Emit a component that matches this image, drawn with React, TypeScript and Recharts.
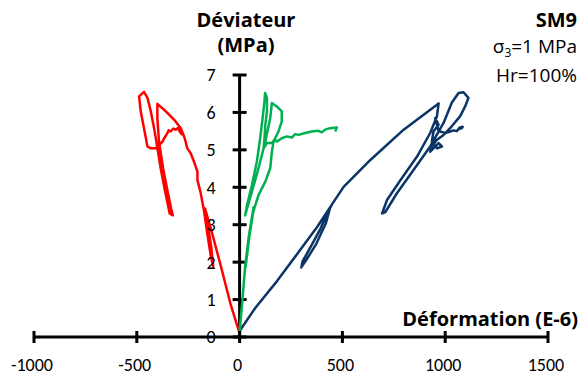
import React from "react";
import { ComposedChart, Scatter, XAxis, YAxis, ReferenceLine } from "recharts";

// déformation (E-6) / déviateur (MPa)
const lateralCurve: [number, number][] = [
  [0, 0.1], [-44, 0.88], [-92, 1.91], [-133, 2.76], [-168, 3.43],
  [-155, 3.03], [-138, 2.4], [-128, 1.88], [-139, 2.13], [-157, 2.76], [-172, 3.34],
  [-189, 3.84], [-205, 4.19], [-205, 4.42], [-222, 4.69], [-238, 4.91], [-254, 5.04],
  [-267, 5.31], [-286, 5.58], [-319, 5.81], [-359, 6.03], [-400, 6.23],
  [-400, 5.85], [-392, 5.22], [-372, 4.51], [-350, 3.88], [-333, 3.43], [-325, 3.25],
  [-340, 3.3], [-362, 3.88], [-384, 4.51], [-402, 5.13], [-416, 5.58], [-432, 6.03],
  [-448, 6.39], [-465, 6.55], [-489, 6.43], [-481, 6.03], [-465, 5.58], [-448, 5.09],
  [-432, 5.04], [-408, 5.04], [-392, 5.13], [-375, 5.22], [-367, 5.31], [-354, 5.42],
  [-345, 5.52], [-335, 5.49], [-322, 5.57], [-311, 5.54], [-300, 5.58], [-290, 5.48], [-278, 5.4],
];

const volumetricCurve: [number, number][] = [
  [0, 0.15], [14, 1.0], [27, 1.9], [45, 2.7], [68, 3.47], [50, 2.8], [29, 1.86],
  [45, 2.6], [65, 3.3], [75, 3.5], [92, 3.79], [125, 4.15], [149, 4.51], [157, 4.95],
  [165, 5.22], [189, 5.49], [205, 5.76], [205, 6.03], [181, 6.16], [157, 6.25],
  [149, 5.85], [125, 5.22], [92, 4.51], [60, 3.88], [36, 3.43], [27, 3.25],
  [36, 3.52], [60, 4.06], [84, 4.69], [100, 5.31], [112, 5.85], [121, 6.3], [124, 6.52],
  [133, 6.39], [133, 6.03], [125, 5.67], [121, 5.31], [117, 5.04], [133, 5.18],
  [157, 5.18], [170, 5.28], [181, 5.22], [205, 5.31], [230, 5.36], [254, 5.33],
  [270, 5.42], [286, 5.4], [319, 5.45], [351, 5.49], [384, 5.51], [400, 5.47],
  [416, 5.54], [440, 5.58], [473, 5.6], [465, 5.49],
];

const axialCurve: [number, number][] = [
  [0, 0.15], [5, 0.2], [78, 0.79], [183, 1.5], [280, 2.22], [377, 2.94], [442, 3.48],
  [419, 3.03], [373, 2.49], [328, 2.09], [300, 1.86], [306, 2.02], [345, 2.4],
  [393, 2.89], [432, 3.37], [450, 3.55], [506, 4.01], [636, 4.73], [798, 5.54],
  [895, 5.94], [968, 6.24], [960, 5.9], [927, 5.45], [863, 4.82], [782, 4.19],
  [717, 3.66], [693, 3.3], [709, 3.34], [765, 3.84], [846, 4.46], [927, 5.09],
  [992, 5.72], [1032, 6.26], [1065, 6.52], [1089, 6.54], [1113, 6.39], [1097, 6.16],
  [1073, 5.9], [1032, 5.63], [992, 5.4], [960, 5.27], [935, 5.09], [927, 4.95],
  [943, 5.04], [968, 5.18], [984, 5.09], [960, 5.04], [935, 5.22], [943, 5.49],
  [968, 5.67], [951, 5.85], [968, 5.5], [1000, 5.45], [1024, 5.49], [1040, 5.52],
  [1057, 5.5], [1070, 5.6], [1081, 5.58], [1065, 5.55], [1081, 5.62], [1090, 5.6],
];

const xTicks = [-1000, -500, 0, 500, 1000, 1500];
const yTicks = [0, 1, 2, 3, 4, 5, 6, 7];

const TICK_FONT = "Carlito, Lato, sans-serif";
const TITLE_FONT = "'Open Sans', sans-serif";

const toPoints = (c: [number, number][]) => c.map(([x, y]) => ({ x, y }));

const XTick = (props: any) => {
  const { x, y, payload } = props;
  return (
    <g>
      <line x1={x} x2={x} y1={y - 6} y2={y + 6} stroke="#000" strokeWidth={3} />
      <text x={x - 2} y={y + 34} textAnchor="middle" fontSize={18} fill="#000" fontFamily={TICK_FONT}>
        {payload.value}
      </text>
    </g>
  );
};

const noShape = () => <g />;

export default function App() {
  const series = [
    { name: "lateral", data: toPoints(lateralCurve), color: "#FF0000" },
    { name: "axial", data: toPoints(axialCurve), color: "#0B3567" },
    { name: "volumetric", data: toPoints(volumetricCurve), color: "#00B050" },
  ];

  return (
    <div style={{ position: "absolute", left: 0, top: 0, width: 581, height: 385, background: "#fff" }}>
      <ComposedChart width={581} height={385} margin={{ top: 75, right: 33, bottom: 0, left: 34 }}>
        <XAxis
          type="number"
          dataKey="x"
          domain={[-1000, 1500]}
          ticks={xTicks}
          interval={0}
          allowDataOverflow
          height={48}
          tickSize={0}
          tickMargin={0}
          tick={<XTick />}
          axisLine={{ stroke: "#000", strokeWidth: 3 }}
        />
        <YAxis type="number" dataKey="y" domain={[0, 7]} ticks={yTicks} hide allowDataOverflow />
        <ReferenceLine x={0} stroke="#000" strokeWidth={3} />
        {yTicks.map((v) => (
          <ReferenceLine
            key={v}
            segment={[{ x: -34, y: v }, { x: 34, y: v }]}
            stroke="#000"
            strokeWidth={3}
            ifOverflow="visible"
            label={{ value: String(v), position: "left", offset: 17, fill: "#000", fontSize: 18, fontFamily: TICK_FONT }}
          />
        ))}
        {series.map((s) => (
          <Scatter
            key={s.name}
            data={s.data}
            fill={s.color}
            line={{ stroke: s.color, strokeWidth: 2.5, strokeLinejoin: "round" }}
            lineType="joint"
            shape={noShape}
            legendType="none"
            isAnimationActive={false}
          />
        ))}
      </ComposedChart>
      <svg width={581} height={385} style={{ position: "absolute", left: 0, top: 0, pointerEvents: "none" }}>
        <g fontFamily={TITLE_FONT} fill="#000">
          <text x={246} y={27} textAnchor="middle" fontSize={20} fontWeight="bold">Déviateur</text>
          <text x={246} y={52} textAnchor="middle" fontSize={20} fontWeight="bold">(MPa)</text>
          <text x={577} y={27} textAnchor="end" fontSize={20} fontWeight="bold">SM9</text>
          <text x={577} y={53} textAnchor="end" fontSize={19}>
            σ<tspan fontSize={12} dy={4}>3</tspan><tspan dy={-4}>=1 MPa</tspan>
          </text>
          <text x={577} y={82} textAnchor="end" fontSize={19}>Hr=100%</text>
          <text x={578} y={326} textAnchor="end" fontSize={20} fontWeight="bold">Déformation (E-6)</text>
        </g>
      </svg>
    </div>
  );
}
